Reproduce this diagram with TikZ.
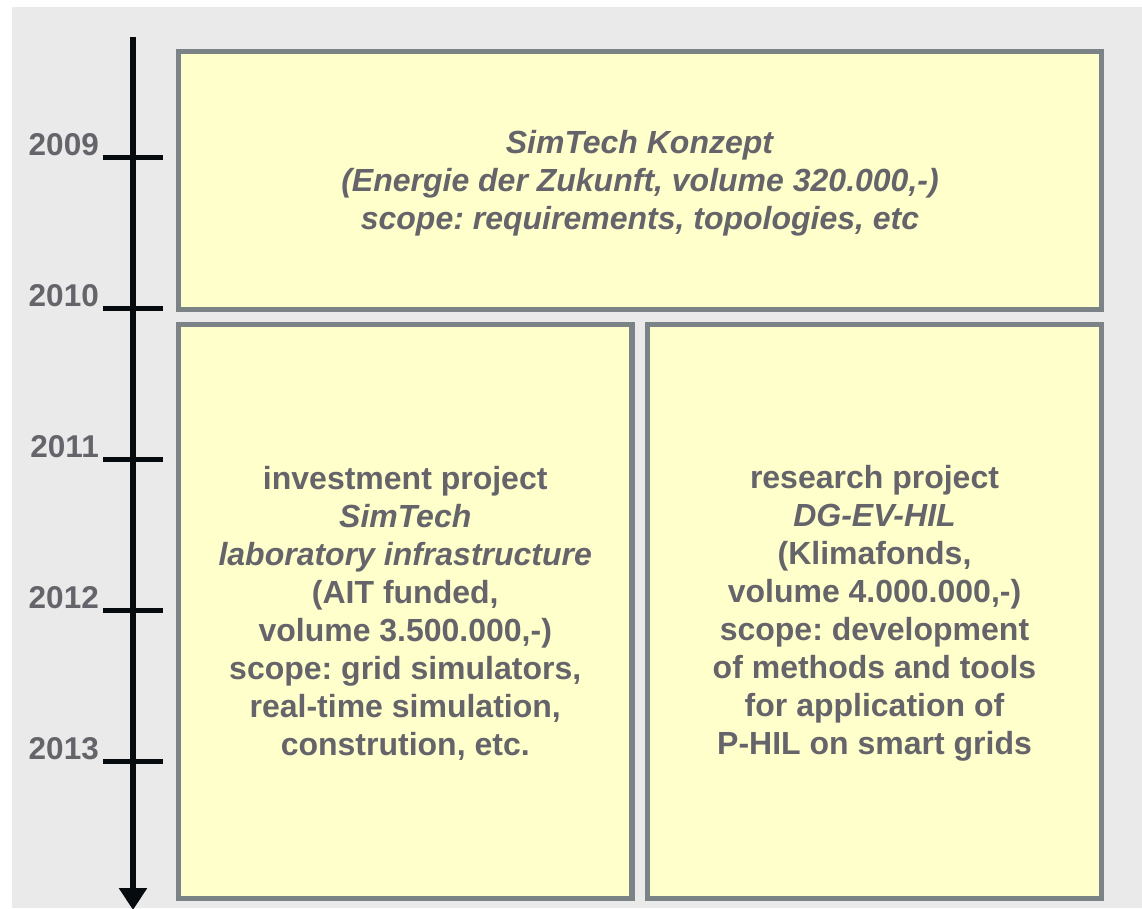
\documentclass[tikz,border=0pt]{standalone}
\usepackage{fontspec}
\setmainfont{Liberation Sans}
\usetikzlibrary{arrows.meta}
\definecolor{bggray}{RGB}{234,234,234}
\definecolor{boxfill}{RGB}{255,255,204}
\definecolor{boxline}{RGB}{124,131,135}
\definecolor{txtgray}{RGB}{100,100,106}
\definecolor{axisblack}{RGB}{6,11,16}
\frenchspacing
\begin{document}
\begin{tikzpicture}[x=1pt,y=-1pt,
  phase/.style={draw=boxline, fill=boxfill, line width=5.5pt, inner sep=0pt},
  phasetext/.style={inner sep=0pt, align=center, text=txtgray,
    font=\fontsize{32}{38}\selectfont\bfseries},
  year/.style={anchor=base east, inner sep=0pt, text=txtgray,
    font=\fontsize{31.5}{38}\selectfont\bfseries},
  yeartick/.style={draw=axisblack, line width=5pt},
  timeaxis/.style={draw=axisblack, line width=5.5pt,
    -{Triangle[width=27pt,length=22pt]}}]

% page and background panel
\useasboundingbox (0,0) rectangle (1142,908);
\fill[white] (0,0) rectangle (1142,908);
\fill[bggray] (12,7) rectangle (1142,908);

% time axis
\coordinate (axtop) at (133,37);
\coordinate (axend) at (133,910);
\draw[timeaxis] (axtop) -- (axend);

% year ticks and labels
\foreach \yr/\ty in {2009/157.5, 2010/308.5, 2011/459.5, 2012/610.5, 2013/761.5} {
  \coordinate (tw\yr) at (103,\ty);
  \coordinate (te\yr) at (163,\ty);
  \draw[yeartick] (tw\yr) -- (te\yr);
  \node[year] (y\yr) at (99,\ty-2) {\yr};
}

% project phases
\node[phase, minimum width=923pt, minimum height=258pt] (konzept) at (640,180.5) {};
\node[phasetext] (konzepttext) at ([yshift=-3pt]konzept.center)
  {\textit{SimTech Konzept}\\
   \textit{(Energie der Zukunft, volume 320.000,-)}\\
   \textit{scope: requirements, topologies, etc}};

\node[phase, minimum width=453.5pt, minimum height=574pt] (invest) at (405.25,611.5) {};
\node[phasetext] (investtext) at ([yshift=-2pt]invest.center)
  {investment project\\
   \textit{SimTech}\\
   \textit{laboratory infrastructure}\\
   (AIT funded,\\
   volume 3.500.000,-)\\
   scope: grid simulators,\\
   real-time simulation,\\
   constrution, etc.};

\node[phase, minimum width=454pt, minimum height=574pt] (research) at (874.5,611.5) {};
\node[phasetext] (researchtext) at ([yshift=-2pt]research.center)
  {research project\\
   \textit{DG-EV-HIL}\\
   (Klimafonds,\\
   volume 4.000.000,-)\\
   scope: development\\
   of methods and tools\\
   for application of\\
   P-HIL on smart grids};
\end{tikzpicture}
\end{document}
